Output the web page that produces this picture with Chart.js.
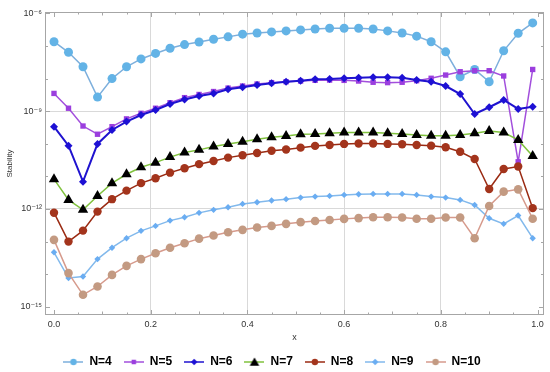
<!DOCTYPE html>
<html><head><meta charset="utf-8">
<script src="https://cdn.jsdelivr.net/npm/chart.js@4.4.1/dist/chart.umd.min.js"></script>
<style>html,body{margin:0;padding:0;background:#fff}#wrap{width:550px;height:372px}</style>
</head><body><div id="wrap"><canvas id="c" width="550" height="372"></canvas></div>
<script>
// ---- data ----
const xs = [0.00,0.03,0.06,0.09,0.12,0.15,0.18,0.21,0.24,0.27,0.30,0.33,0.36,0.39,0.42,0.45,0.48,0.51,0.54,0.57,0.60,0.63,0.66,0.69,0.72,0.75,0.78,0.81,0.84,0.87,0.90,0.93,0.96,0.99];
const n4 = [1.35e-7,6.4e-8,2.3e-8,2.7e-9,1.0e-8,2.3e-8,4.0e-8,5.9e-8,8.5e-8,1.1e-7,1.32e-7,1.6e-7,1.9e-7,2.3e-7,2.5e-7,2.7e-7,2.9e-7,3.1e-7,3.3e-7,3.5e-7,3.5e-7,3.5e-7,3.3e-7,2.9e-7,2.5e-7,2.0e-7,1.35e-7,6.6e-8,1.14e-8,1.9e-8,8.0e-9,7.1e-8,2.45e-7,5.1e-7];
const n5 = [3.5e-9,1.23e-9,3.5e-10,1.96e-10,3.35e-10,5.8e-10,8.6e-10,1.23e-9,1.82e-9,2.6e-9,3.25e-9,4.0e-9,5.1e-9,5.9e-9,6.8e-9,7.5e-9,8.0e-9,8.4e-9,8.85e-9,9.0e-9,8.8e-9,8.4e-9,7.7e-9,7.5e-9,7.7e-9,8.6e-9,1.02e-8,1.28e-8,1.62e-8,1.74e-8,1.74e-8,1.2e-8,2.8e-11,1.9e-8];
const n6 = [3.35e-10,8.75e-11,6.9e-12,9.9e-11,2.65e-10,4.8e-10,7.6e-10,1.09e-9,1.66e-9,2.28e-9,2.9e-9,3.5e-9,4.7e-9,5.4e-9,6.35e-9,7.2e-9,8.0e-9,8.6e-9,9.5e-9,9.7e-9,1.02e-8,1.06e-8,1.09e-8,1.09e-8,1.06e-8,9.0e-9,8.0e-9,5.9e-9,3.36e-9,8.2e-10,1.32e-9,2.2e-9,1.17e-9,1.37e-9];
const n7 = [8.2e-12,1.9e-12,9.4e-13,2.5e-12,6.2e-12,1.16e-11,1.9e-11,2.64e-11,3.9e-11,5.4e-11,6.5e-11,8.2e-11,9.9e-11,1.16e-10,1.38e-10,1.58e-10,1.74e-10,1.96e-10,2.0e-10,2.1e-10,2.2e-10,2.2e-10,2.2e-10,2.1e-10,2.0e-10,1.86e-10,1.77e-10,1.77e-10,1.86e-10,2.1e-10,2.47e-10,2.2e-10,1.31e-10,4.2e-11];
const n8 = [7.7e-13,1.0e-13,2.17e-13,8.3e-13,2.0e-12,3.66e-12,6.2e-12,8.8e-12,1.3e-11,1.78e-11,2.37e-11,2.97e-11,3.76e-11,4.45e-11,5.2e-11,6.1e-11,6.65e-11,7.6e-11,8.6e-11,9.2e-11,9.9e-11,1.02e-10,1.02e-10,9.9e-11,9.7e-11,9.2e-11,8.75e-11,7.8e-11,5.7e-11,3.4e-11,4.1e-12,1.69e-11,2.0e-11,1.06e-12];
const n9 = [4.7e-14,7.6e-15,8.5e-15,2.9e-14,6.5e-14,1.27e-13,2.13e-13,3.03e-13,4.4e-13,5.6e-13,7.6e-13,9.4e-13,1.13e-12,1.43e-12,1.61e-12,1.81e-12,2.0e-12,2.23e-12,2.4e-12,2.52e-12,2.7e-12,2.84e-12,2.9e-12,2.9e-12,2.9e-12,2.7e-12,2.4e-12,2.23e-12,1.9e-12,1.33e-12,5.2e-13,3.5e-13,6.3e-13,1.27e-13];
const n10 = [1.13e-13,1.08e-14,2.33e-15,4.2e-15,9.5e-15,1.8e-14,2.9e-14,4.4e-14,6.5e-14,8.9e-14,1.23e-13,1.53e-13,1.94e-13,2.29e-13,2.69e-13,3.03e-13,3.5e-13,3.94e-13,4.3e-13,4.6e-13,4.97e-13,5.25e-13,5.6e-13,5.6e-13,5.5e-13,5.0e-13,5.0e-13,5.5e-13,5.5e-13,1.27e-13,1.24e-12,3.4e-12,4.0e-12,5.0e-13];
const seriesLabels = ['N=4','N=5','N=6','N=7','N=8','N=9','N=10'];
const xTickValues = [0,0.05,0.1,0.15,0.2,0.25,0.3,0.35,0.4,0.45,0.5,0.55,0.6,0.65,0.7,0.75,0.8,0.85,0.9,0.95,1.0];
const xLabelValues = [0,0.2,0.4,0.6,0.8,1.0];
const xGridValues = [0.2,0.4,0.6,0.8];
const yTickExponents = [-15,-14,-13,-12,-11,-10,-9,-8,-7,-6];
const yLabelExponents = [-15,-12,-9,-6];
const yGridExponents = [-12,-9];
const xTitle = 'x';
const yTitle = 'Stability';

// ---- styles ----
const styles = [
  {line:'#7dafdc', pt:'#63b3e6', shape:'circle',   r:4.5, w:1.5},
  {line:'#a24fdc', pt:'#9b3ede', shape:'rect',     r:3.8, w:1.5},
  {line:'#1f12cf', pt:'#1d10d4', shape:'rectRot',  r:4,   w:2},
  {line:'#80c23e', pt:'#000000', shape:'triangle', r:6,   w:1.5},
  {line:'#9a2a12', pt:'#a3341c', shape:'circle',   r:4.2, w:1.5},
  {line:'#82b9ec', pt:'#6aadf2', shape:'rectRot',  r:3.2, w:1.5},
  {line:'#d69a8c', pt:'#c39a82', shape:'circle',   r:4.3, w:1.5}
];
const seriesValues = [n4,n5,n6,n7,n8,n9,n10];

const datasets = seriesValues.map((vals,i)=>({
  label: seriesLabels[i],
  data: xs.map((x,j)=>({x:x, y:vals[j]})),
  borderColor: styles[i].line,
  backgroundColor: styles[i].pt,
  pointBackgroundColor: styles[i].pt,
  pointBorderColor: styles[i].pt,
  pointBorderWidth: 0,
  pointStyle: styles[i].shape,
  pointRadius: styles[i].r,
  borderWidth: styles[i].w,
  tension: 0,
  order: 6 - i
}));

function markerPath(ctx, shape, x, y, r){
  ctx.beginPath();
  if (shape==='circle'){ ctx.arc(x,y,r,0,Math.PI*2); }
  else if (shape==='rect'){ const s=r*Math.SQRT1_2; ctx.rect(x-s,y-s,2*s,2*s); }
  else if (shape==='rectRot'){ ctx.moveTo(x,y-r); ctx.lineTo(x+r,y); ctx.lineTo(x,y+r); ctx.lineTo(x-r,y); ctx.closePath(); }
  else if (shape==='triangle'){ const w=r*Math.sqrt(3)/2; ctx.moveTo(x,y-r); ctx.lineTo(x+w,y+r/2); ctx.lineTo(x-w,y+r/2); ctx.closePath(); }
}
function legendIcon(i){
  const c=document.createElement('canvas'); c.width=20; c.height=14;
  const g=c.getContext('2d');
  g.strokeStyle=styles[i].line; g.lineWidth=1.5;
  g.beginPath(); g.moveTo(0,7); g.lineTo(20,7); g.stroke();
  g.fillStyle=styles[i].pt;
  const rr = styles[i].shape==='triangle' ? 5.5 : 3.2;
  markerPath(g, styles[i].shape, 10, styles[i].shape==='triangle'?8:7, rr); g.fill();
  return c;
}

const sup = {'-':'\u207B','0':'\u2070','1':'\u00B9','2':'\u00B2','3':'\u00B3','4':'\u2074','5':'\u2075','6':'\u2076','7':'\u2077','8':'\u2078','9':'\u2079'};
function powLabel(e){ return '10' + String(e).split('').map(ch=>sup[ch]).join(''); }
function isIn(arr, v){ return arr.some(a=>Math.abs(a-v)<1e-9); }

const framePlugin = {
  id:'frame',
  beforeDatasetsDraw(chart){
    const {ctx, chartArea:a, scales} = chart;
    const x=scales.x, y=scales.y;
    ctx.save();
    ctx.strokeStyle='#a6a6a6'; ctx.lineWidth=1;
    ctx.strokeRect(Math.round(a.left)+0.5, Math.round(a.top)+0.5, Math.round(a.right-a.left)-1, Math.round(a.bottom-a.top)-1);
    ctx.beginPath();
    x.ticks.forEach(t=>{
      const px=Math.round(x.getPixelForValue(t.value))+0.5;
      const len = isIn(xLabelValues,t.value)?5:(isIn([0.1,0.3,0.5,0.7,0.9],t.value)?3.5:2.5);
      ctx.moveTo(px,a.bottom); ctx.lineTo(px,a.bottom-len);
      ctx.moveTo(px,a.top); ctx.lineTo(px,a.top+len);
    });
    y.ticks.forEach(t=>{
      const e=Math.round(Math.log10(t.value));
      const py=Math.round(y.getPixelForValue(t.value))+0.5;
      const len = yLabelExponents.includes(e)?5:3;
      ctx.moveTo(a.left,py); ctx.lineTo(a.left+len,py);
      ctx.moveTo(a.right,py); ctx.lineTo(a.right-len,py);
    });
    ctx.stroke();
    ctx.restore();
  }
};

const tickFont = {family:'"Liberation Sans", Arial, "DejaVu Sans", sans-serif', size:9};

new Chart(document.getElementById('c'), {
  type:'line',
  data:{datasets},
  plugins:[framePlugin],
  options:{
    responsive:false, devicePixelRatio:1, animation:false,
    layout:{padding:{top:12,right:6,left:0,bottom:-6}},
    plugins:{
      tooltip:{enabled:false},
      legend:{
        position:'bottom',
        labels:{
          usePointStyle:true, pointStyleWidth:20, padding:12,
          font:{family:'"Liberation Sans", Arial, sans-serif', size:12, weight:'bold'},
          color:'#000',
          generateLabels(chart){
            return chart.data.datasets.map((ds,i)=>({
              text: ds.label, pointStyle: legendIcon(i), fillStyle:'rgba(0,0,0,0)',
              strokeStyle:'rgba(0,0,0,0)', lineWidth:0, hidden:false, datasetIndex:i, fontColor:'#000'
            }));
          }
        }
      }
    },
    scales:{
      x:{
        type:'linear', min:-0.0186, max:1.0134,
        afterBuildTicks(s){ s.ticks = xTickValues.map(v=>({value:v})); },
        afterFit(s){ s.height = 29; },
        ticks:{ autoSkip:false, maxRotation:0, padding:4, font:tickFont, color:'#333',
          callback(v){ return isIn(xLabelValues,v) ? v.toFixed(1) : ''; } },
        grid:{ drawTicks:false, lineWidth:1,
          color(c){ return (c.tick && isIn(xGridValues,c.tick.value)) ? '#d9d9d9' : 'rgba(0,0,0,0)'; } },
        border:{display:false},
        title:{display:true, text:xTitle, font:tickFont, color:'#333', padding:{top:0,bottom:1}}
      },
      y:{
        type:'logarithmic', min:5.6e-16, max:1.1e-6,
        afterBuildTicks(s){ s.ticks = yTickExponents.map(e=>({value:Math.pow(10,e)})); },
        afterFit(s){ s.width = 45; },
        ticks:{ autoSkip:false, padding:3, font:tickFont, color:'#333',
          callback(v){ const e=Math.round(Math.log10(v)); return yLabelExponents.includes(e) ? powLabel(e) : ''; } },
        grid:{ drawTicks:false, lineWidth:1,
          color(c){ if(!c.tick) return 'rgba(0,0,0,0)'; const e=Math.round(Math.log10(c.tick.value)); return yGridExponents.includes(e) ? '#d9d9d9' : 'rgba(0,0,0,0)'; } },
        border:{display:false},
        title:{display:true, text:yTitle, font:{family:'"Liberation Sans", Arial, sans-serif', size:8}, color:'#333', padding:{top:5,bottom:0}}
      }
    }
  }
});
</script></body></html>
